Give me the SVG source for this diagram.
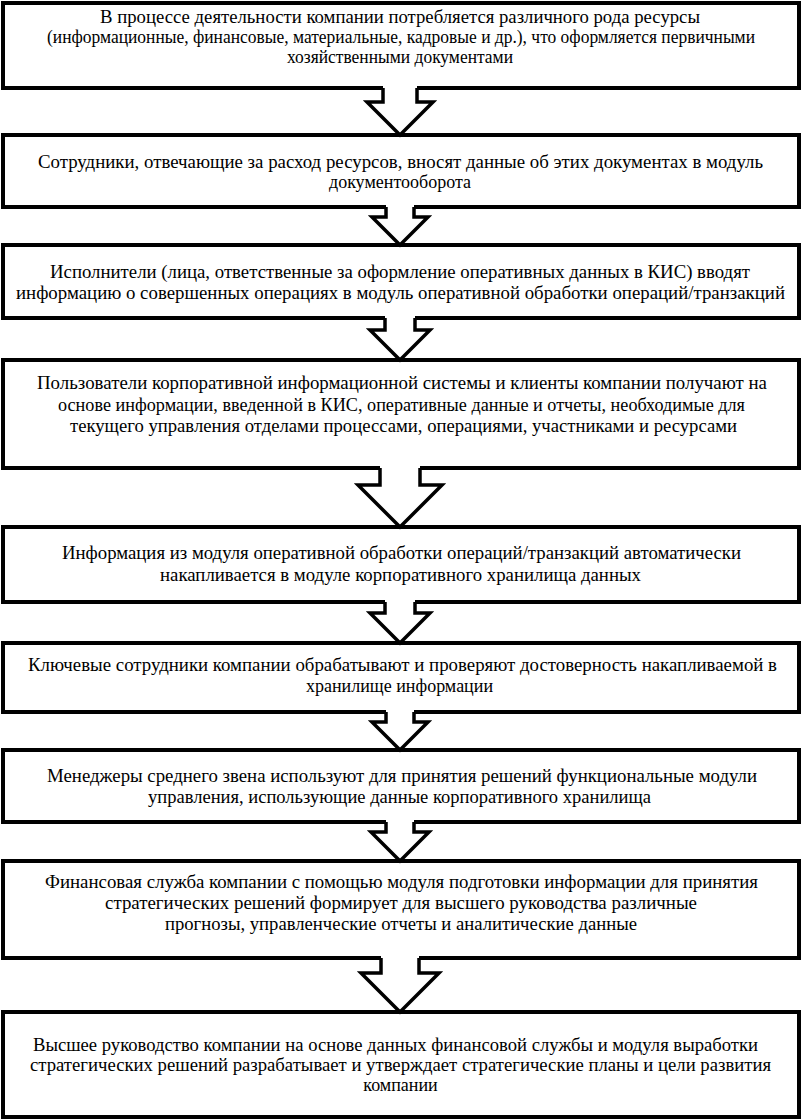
<svg xmlns="http://www.w3.org/2000/svg" width="802" height="1120" viewBox="0 0 802 1120">
<style>
.box{fill:#fff;stroke:#000;stroke-width:4}
.af{fill:#fff;stroke:none}
.al{fill:none;stroke:#000;stroke-width:3.5;stroke-linejoin:miter;stroke-miterlimit:10}
text{font-family:'Liberation Serif','DejaVu Serif',serif;font-size:18px;text-anchor:middle;fill:#000}
</style>
<rect width="802" height="1120" fill="#fff"/>
<g id="n1"><rect class="box" x="3" y="3" width="796" height="85"/>
<text x="400" y="23" textLength="600" lengthAdjust="spacingAndGlyphs">В процессе деятельности компании потребляется различного рода ресурсы</text>
<text x="401" y="43" textLength="708" lengthAdjust="spacingAndGlyphs">(информационные, финансовые, материальные, кадровые и др.), что оформляется первичными</text>
<text x="400" y="63" textLength="226" lengthAdjust="spacingAndGlyphs">хозяйственными документами</text></g>
<g id="n2"><rect class="box" x="3" y="135" width="796" height="72"/>
<text x="400.5" y="168" textLength="725" lengthAdjust="spacingAndGlyphs">Сотрудники, отвечающие за расход ресурсов, вносят данные об этих документах в модуль</text>
<text x="400" y="188">документооборота</text></g>
<g id="n3"><rect class="box" x="3" y="245" width="796" height="73"/>
<text x="400" y="278" textLength="700" lengthAdjust="spacingAndGlyphs">Исполнители (лица, ответственные за оформление оперативных данных в КИС) вводят</text>
<text x="400.5" y="299" textLength="769" lengthAdjust="spacingAndGlyphs">информацию о совершенных операциях в модуль оперативной обработки операций/транзакций</text></g>
<g id="n4"><rect class="box" x="3" y="360" width="796" height="108"/>
<text x="402" y="389" textLength="730" lengthAdjust="spacingAndGlyphs">Пользователи корпоративной информационной системы и клиенты компании получают на</text>
<text x="401.5" y="411" textLength="687" lengthAdjust="spacingAndGlyphs">основе информации, введенной в КИС, оперативные данные и отчеты, необходимые для</text>
<text x="403.5" y="432" textLength="667" lengthAdjust="spacingAndGlyphs">текущего управления отделами процессами, операциями, участниками и ресурсами</text></g>
<g id="n5"><rect class="box" x="3" y="527" width="796" height="75"/>
<text x="401.5" y="559" textLength="679" lengthAdjust="spacingAndGlyphs">Информация из модуля оперативной обработки операций/транзакций автоматически</text>
<text x="400.5" y="581" textLength="481" lengthAdjust="spacingAndGlyphs">накапливается в модуле корпоративного хранилища данных</text></g>
<g id="n6"><rect class="box" x="3" y="643" width="796" height="69"/>
<text x="402.5" y="671" textLength="749" lengthAdjust="spacingAndGlyphs">Ключевые сотрудники компании обрабатывают и проверяют достоверность накапливаемой в</text>
<text x="399.5" y="692">хранилище информации</text></g>
<g id="n7"><rect class="box" x="3" y="750" width="796" height="72"/>
<text x="402" y="782" textLength="710" lengthAdjust="spacingAndGlyphs">Менеджеры среднего звена используют для принятия решений функциональные модули</text>
<text x="399.5" y="803" textLength="503" lengthAdjust="spacingAndGlyphs">управления, использующие данные корпоративного хранилища</text></g>
<g id="n8"><rect class="box" x="3" y="861" width="796" height="97"/>
<text x="401.5" y="888" textLength="713" lengthAdjust="spacingAndGlyphs">Финансовая служба компании с помощью модуля подготовки информации для принятия</text>
<text x="401" y="909" textLength="592" lengthAdjust="spacingAndGlyphs">стратегических решений формирует для высшего руководства различные</text>
<text x="401" y="930" textLength="472" lengthAdjust="spacingAndGlyphs">прогнозы, управленческие отчеты и аналитические данные</text></g>
<g id="n9"><rect class="box" x="3" y="1012" width="796" height="105"/>
<text x="395.5" y="1051" textLength="725" lengthAdjust="spacingAndGlyphs">Высшее руководство компании на основе данных финансовой службы и модуля выработки</text>
<text x="400.5" y="1071" textLength="741" lengthAdjust="spacingAndGlyphs">стратегических решений разрабатывает и утверждает стратегические планы и цели развития</text>
<text x="400.5" y="1091">компании</text></g>
<g id="connectors">
<polygon class="af" points="383,85 383,102 367,102 400,135 433,102 417,102 417,85"/>
<polyline class="al" points="383,88 383,102 367,102 400,135 433,102 417,102 417,88"/>
<polygon class="af" points="386,204 386,217 372,217 400,245 428,217 414,217 414,204"/>
<polyline class="al" points="386,207 386,217 372,217 400,245 428,217 414,217 414,207"/>
<polygon class="af" points="385,315 385,330 370,330 400,360 430,330 415,330 415,315"/>
<polyline class="al" points="385,318 385,330 370,330 400,360 430,330 415,330 415,318"/>
<polygon class="af" points="380,465 380,485 358,485 400,527 442,485 420,485 420,465"/>
<polyline class="al" points="380,468 380,485 358,485 400,527 442,485 420,485 420,468"/>
<polygon class="af" points="385,599 385,613 370,613 400,643 430,613 415,613 415,599"/>
<polyline class="al" points="385,602 385,613 370,613 400,643 430,613 415,613 415,602"/>
<polygon class="af" points="386,709 386,722 372,722 400,750 428,722 414,722 414,709"/>
<polyline class="al" points="386,712 386,722 372,722 400,750 428,722 414,722 414,712"/>
<polygon class="af" points="386,819 386,832 371,832 400,861 429,832 414,832 414,819"/>
<polyline class="al" points="386,822 386,832 371,832 400,861 429,832 414,832 414,822"/>
<polygon class="af" points="381,955 381,973 361,973 400,1012 439,973 419,973 419,955"/>
<polyline class="al" points="381,958 381,973 361,973 400,1012 439,973 419,973 419,958"/>
</g>
</svg>
